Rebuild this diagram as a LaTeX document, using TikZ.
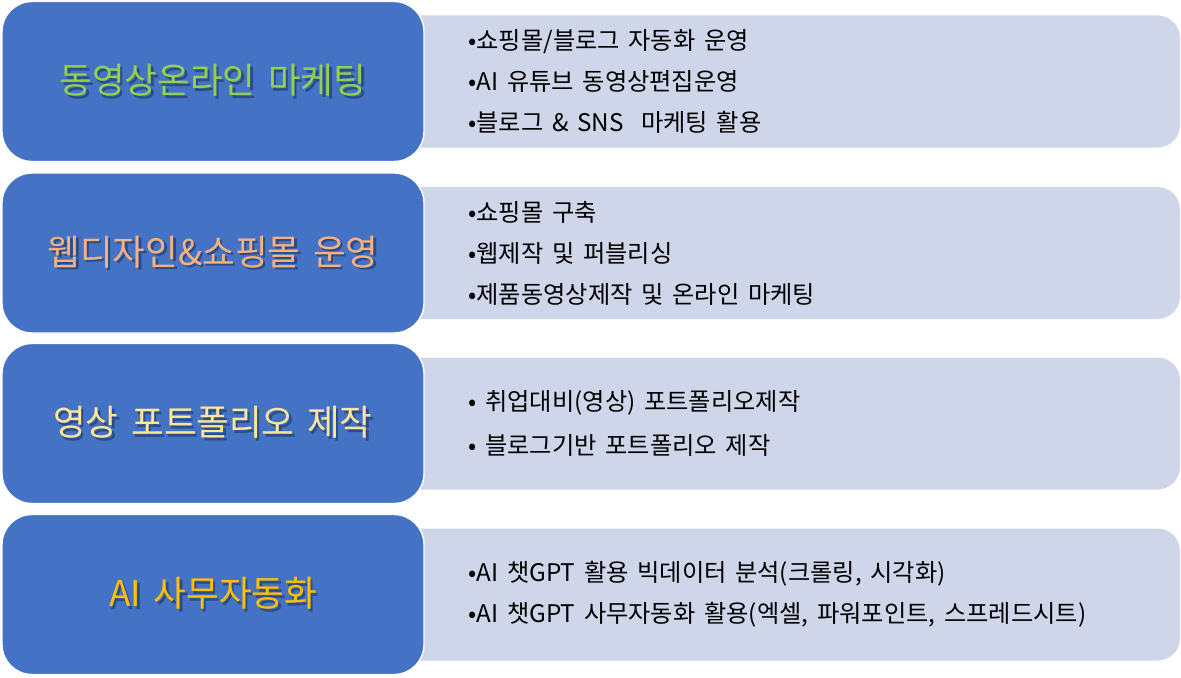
\documentclass[tikz,border=0pt]{standalone}
\usepackage{fontspec}
\setmainfont[WordSpace=1.6]{Noto Sans CJK KR}
\usepackage{xcolor}
\usepackage{tikz}
\usetikzlibrary{positioning}
\definecolor{rowBlue}{HTML}{4472C4}
\definecolor{rowLight}{HTML}{D0D6EA}
\definecolor{titleShadow}{HTML}{2B4C86}
\definecolor{titleGreen}{HTML}{92D050}
\definecolor{titleOrange}{HTML}{F4B183}
\definecolor{titleCream}{HTML}{FFE699}
\definecolor{titleGold}{HTML}{FFC000}
\newcommand\shadowed[1]{\makebox[0pt][l]{\hspace{1.4pt}\raisebox{-1.4pt}{\textcolor{titleShadow}{#1}}}#1}

\begin{document}
\begin{tikzpicture}[
    title/.style={draw=white, line width=0.8pt, fill=rowBlue, rounded corners=0.6cm,
      minimum width=8.44cm, minimum height=3.2cm, font=\fontsize{20.2}{23}\selectfont},
    detail/.style={fill=rowLight, rounded corners=0.45cm,
      minimum width=17.6cm, minimum height=2.64cm},
    items/.style={anchor=west, align=left, inner sep=0pt,
      font=\fontsize{13.8}{23.4}\selectfont}]
    \useasboundingbox (0,0) rectangle (23.62,-13.54);
    % --- row levels ---
    \def\ya{-1.63} \def\yb{-5.06} \def\yc{-8.47} \def\yd{-11.89}
    \def\tx{4.26} \def\dx{14.8} \def\lx{9.36}
    % --- detail panels (behind) ---
    \node[detail] (d1) at (\dx,\ya) {};
    \node[detail] (d2) at (\dx,\yb) {};
    \node[detail] (d3) at (\dx,\yc) {};
    \node[detail] (d4) at (\dx,\yd) {};
    % --- titles ---
    \node[title, text=titleGreen] (t1) at (\tx,\ya) {\shadowed{동영상온라인 마케팅}};
    \node[title, text=titleOrange] (t2) at (\tx,\yb) {\shadowed{웹디자인\&쇼핑몰 운영}};
    \node[title, text=titleCream] (t3) at (\tx,\yc) {\shadowed{영상 포트폴리오 제작}};
    \node[title, text=titleGold] (t4) at (\tx,\yd) {\shadowed{AI 사무자동화}};
    % --- bullet lists ---
    \node[items] (l1) at (\lx,\ya) {•쇼핑몰/블로그 자동화 운영\\•AI 유튜브 동영상편집운영\\•블로그 \& SNS\ \ 마케팅 활용};
    \node[items] (l2) at (\lx,\yb) {•쇼핑몰 구축\\•웹제작 및 퍼블리싱\\•제품동영상제작 및 온라인 마케팅};
    \node[items, font=\fontsize{13.8}{25.5}\selectfont] (l3) at (\lx,\yc) {• 취업대비(영상) 포트폴리오제작\\• 블로그기반 포트폴리오 제작};
    \node[items] (l4) at (\lx,\yd) {•AI 챗GPT 활용 빅데이터 분석(크롤링, 시각화)\\•AI 챗GPT 사무자동화 활용(엑셀, 파워포인트, 스프레드시트)};
\end{tikzpicture}
\end{document}
